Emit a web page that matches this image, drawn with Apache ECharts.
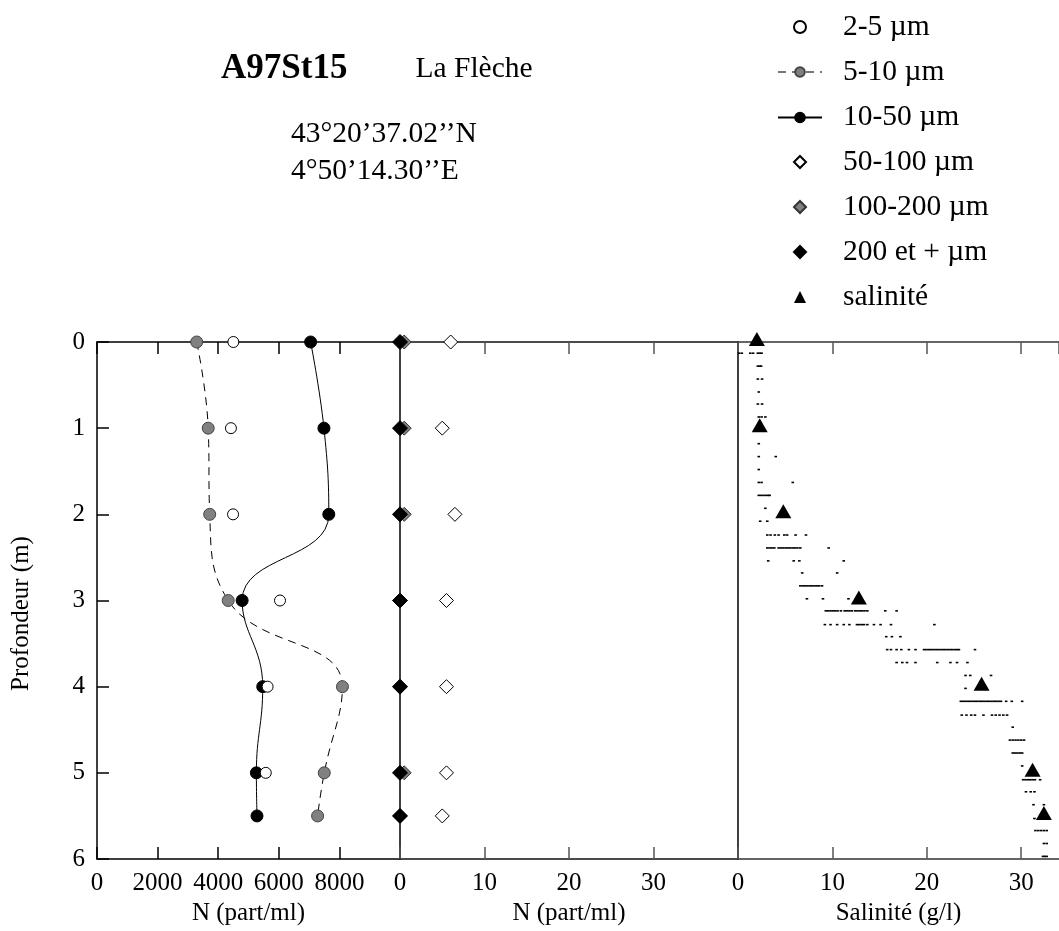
<!DOCTYPE html>
<html><head><meta charset="utf-8">
<script src="https://cdn.jsdelivr.net/npm/echarts@6/dist/echarts.min.js"></script>
<style>html,body{margin:0;padding:0;background:#fff}#c{width:1059px;height:931px}</style>
</head><body><div id="c"></div>
<script>
// ---- data ----
const depths = [0, 1, 2, 3, 4, 5, 5.5];
const n2to5 = [4500, 4420, 4490, 6040, 5630, 5570, null];
const n5to10 = [3290, 3670, 3720, 4330, 8100, 7500, 7280];
const n10to50 = [7050, 7490, 7650, 4790, 5470, 5260, 5280];
const n50to100 = [6.0, 5.0, 6.5, 5.5, 5.5, 5.5, 5.0];
const n100to200 = [0.5, 0.5, 0.5, 0, 0, 0.5, 0];
const n200plus = [0, 0, 0, 0, 0, 0, 0];
const salinity = [2.0, 2.3, 4.8, 12.8, 25.8, 31.2, 32.4];

const ctdRowDepth = [0.13, 0.28, 0.43, 0.58, 0.72, 0.87, 1.18, 1.33, 1.48, 1.63, 1.78, 1.93, 2.08, 2.24, 2.39, 2.54, 2.68, 2.83, 2.98, 3.12, 3.28, 3.42, 3.57, 3.72, 3.87, 4.02, 4.17, 4.33, 4.47, 4.62, 4.77, 4.92, 5.08, 5.22, 5.37, 5.53, 5.67, 5.82, 5.97];
const ctdRowSalinity = [
  [0.1, 0.4, 1.3, 1.6, 2.1, 2.3, 2.5],
  [2.1, 2.3, 2.45],
  [2.1, 2.55],
  [2.2],
  [2.1, 2.55],
  [2.2, 2.5, 2.9],
  [2.2],
  [2.2, 4.0],
  [2.2],
  [2.2, 2.5, 5.8],
  [2.2, 2.45, 2.7, 2.95, 3.2, 3.35],
  [2.9],
  [2.35, 3.1],
  [3.1, 3.45, 3.9, 4.3, 4.9, 5.2, 6.1, 7.2],
  [3.1, 3.35, 3.6, 3.85, 4.3, 4.55, 4.8, 5.05, 5.3, 5.55, 5.8, 6.05, 6.3, 6.6, 9.6],
  [3.2, 5.9, 6.5, 11.2],
  [6.8, 10.5],
  [6.6, 6.85, 7.1, 7.35, 7.6, 7.85, 8.1, 8.35, 8.6, 8.9],
  [7.3, 9.0, 11.7],
  [9.3, 9.55, 9.8, 10.05, 10.3, 10.55, 10.9, 11.3, 11.55, 11.8, 12.05, 12.4, 12.65, 12.9, 13.15, 13.4, 13.7, 15.6, 16.8],
  [9.2, 9.8, 10.5, 11.2, 11.8, 12.6, 12.85, 13.1, 13.35, 13.7, 14.4, 15.1, 16.2, 20.8],
  [15.7, 16.3, 17.2],
  [15.8, 16.2, 16.8, 17.3, 18.1, 18.8, 19.7, 19.95, 20.2, 20.45, 20.7, 20.95, 21.2, 21.45, 21.7, 21.95, 22.2, 22.45, 22.7, 22.95, 23.2, 23.4, 25.1],
  [16.8, 17.4, 17.9, 18.8, 21.1, 22.5, 23.2, 24.3],
  [24.1, 24.6, 26.8],
  [24.1],
  [23.6, 23.85, 24.1, 24.35, 24.6, 24.85, 25.1, 25.35, 25.6, 25.85, 26.1, 26.35, 26.6, 26.85, 27.1, 27.35, 27.6, 27.85, 28.4, 29.0, 30.1],
  [23.7, 24.2, 24.7, 25.1, 26.0, 26.9, 27.3, 27.7, 28.1, 28.5],
  [29.1],
  [28.8, 29.1, 29.4, 29.7, 30.0, 30.3],
  [29.1, 29.35, 29.6, 29.85, 30.1],
  [30.1],
  [30.2, 30.45, 30.7, 30.95, 31.2, 31.45, 32.0],
  [30.5, 31.0, 31.4],
  [31.3, 32.4],
  [31.4],
  [31.5, 31.8, 32.1, 32.4, 32.7],
  [32.4, 32.7],
  [32.3, 32.5, 32.7]
];

const panelRanges = [[0, 10000, 2000], [0, 40, 10], [0, 34, 10]];
const panelNames = ['N (part/ml)', 'N (part/ml)', 'Salinité (g/l)'];
const depthRange = [0, 6, 1];

// ---- build ----
const FONT = 'Liberation Serif';
function pts(arr) {
  const out = [];
  depths.forEach((d, i) => { if (arr[i] !== null) out.push([arr[i], d]); });
  return out;
}
const ctdPts = [];
ctdRowDepth.forEach((d, i) => ctdRowSalinity[i].forEach(s => ctdPts.push([s, d])));

const grids = [
  {left: 97, top: 342, width: 303, height: 517, outerBoundsMode: 'none'},
  {left: 400, top: 342, width: 338, height: 517, outerBoundsMode: 'none'},
  {left: 738, top: 342, width: 321, height: 517, outerBoundsMode: 'none'}
];
const labelStyle = {fontFamily: FONT, fontSize: 25, color: '#000', lineHeight: 25};
const plainNum = v => String(v);
const xAxes = [];
panelRanges.forEach((r, i) => {
  const lineCol = i === 0 ? '#000' : (i === 1 ? '#111' : '#333');
  const tickCol = i === 0 ? '#000' : '#555';
  xAxes.push({
    type: 'value', gridIndex: i, position: 'bottom', min: r[0], max: r[1], interval: r[2],
    axisLine: {show: true, onZero: false, lineStyle: {color: lineCol, width: 1.5}},
    axisTick: {show: true, inside: true, length: 12, lineStyle: {color: tickCol, width: 1.5}},
    axisLabel: Object.assign({show: true, showMaxLabel: false, showMinLabel: true, margin: 12, formatter: plainNum}, labelStyle),
    splitLine: {show: false},
    name: panelNames[i], nameLocation: 'middle', nameGap: 42, nameMoveOverlap: false,
    nameTextStyle: labelStyle
  });
  xAxes.push({
    type: 'value', gridIndex: i, position: 'top', min: r[0], max: r[1], interval: r[2],
    axisLine: {show: true, onZero: false, lineStyle: {color: lineCol, width: 1.5}},
    axisTick: {show: true, inside: true, length: 12, lineStyle: {color: tickCol, width: 1.5}},
    axisLabel: {show: false},
    splitLine: {show: false}
  });
});
const yAxes = [0, 1, 2].map(i => ({
  type: 'value', gridIndex: i, inverse: true, min: depthRange[0], max: depthRange[1], interval: depthRange[2],
  axisLine: {show: true, onZero: false, lineStyle: {color: '#000', width: 1.5}},
  axisTick: {show: i === 0, inside: true, length: 12, lineStyle: {color: '#000', width: 1.5}},
  axisLabel: Object.assign({show: i === 0, margin: 12, formatter: plainNum}, labelStyle),
  splitLine: {show: false},
  name: i === 0 ? 'Profondeur (m)' : '', nameLocation: 'middle', nameGap: 63, nameMoveOverlap: false,
  nameTextStyle: Object.assign({padding: [0, 26, 0, 0]}, labelStyle)
}));

const series = [
  {name: '2-5 µm', type: 'scatter', xAxisIndex: 0, yAxisIndex: 0, symbol: 'circle', symbolSize: 11,
   itemStyle: {color: '#fff', borderColor: '#000', borderWidth: 1, opacity: 1}, data: pts(n2to5), z: 3},
  {name: '5-10 µm', type: 'line', xAxisIndex: 0, yAxisIndex: 0, smooth: 0.45, symbol: 'circle', symbolSize: 12, showAllSymbol: true,
   lineStyle: {color: '#000', width: 1, type: [8, 6]}, itemStyle: {color: '#808080', borderColor: '#444', borderWidth: 1, opacity: 1},
   data: pts(n5to10), z: 2},
  {name: '10-50 µm', type: 'line', xAxisIndex: 0, yAxisIndex: 0, smooth: 0.45, symbol: 'circle', symbolSize: 12, showAllSymbol: true,
   lineStyle: {color: '#000', width: 1}, itemStyle: {color: '#000', borderColor: '#000', borderWidth: 1, opacity: 1},
   data: pts(n10to50), z: 2},
  {name: '50-100 µm', type: 'scatter', xAxisIndex: 2, yAxisIndex: 1, symbol: 'diamond', symbolSize: 14,
   itemStyle: {color: '#fff', borderColor: '#000', borderWidth: 1, opacity: 1}, data: pts(n50to100)},
  {name: '100-200 µm', type: 'scatter', xAxisIndex: 2, yAxisIndex: 1, symbol: 'diamond', symbolSize: 14,
   itemStyle: {color: '#808080', borderColor: '#333', borderWidth: 1, opacity: 1}, data: pts(n100to200)},
  {name: '200 et + µm', type: 'scatter', xAxisIndex: 2, yAxisIndex: 1, symbol: 'diamond', symbolSize: 15,
   itemStyle: {color: '#000', borderColor: '#000', borderWidth: 1, opacity: 1}, data: pts(n200plus)},
  {name: 'ctd', type: 'scatter', xAxisIndex: 4, yAxisIndex: 2, symbol: 'rect', symbolSize: [2.6, 1.6], silent: true,
   itemStyle: {color: '#000', opacity: 1}, data: ctdPts, z: 1},
  {name: 'salinité', type: 'scatter', xAxisIndex: 4, yAxisIndex: 2, symbol: 'triangle', symbolSize: [16, 14], symbolOffset: [0, -3],
   itemStyle: {color: '#000', opacity: 1}, data: pts(salinity), z: 3}
];

const legendText = {fontFamily: FONT, fontSize: 29.5, lineHeight: 29.5, color: '#000'};
function legendBlock(names, top, gap, wide) {
  const w = wide ? 44 : 12;
  return {
    orient: 'vertical', left: 799 - w / 2, top: top, padding: 0,
    itemWidth: w, itemHeight: 12, itemGap: gap, selectedMode: false,
    textStyle: Object.assign({padding: [0, 0, 0, 842 - (799 + w / 2 + 5)]}, legendText),
    data: names
  };
}

const chart = echarts.init(document.getElementById('c'), null, {renderer: 'canvas'});
chart.setOption({
  animation: false,
  backgroundColor: '#fff',
  grid: grids,
  xAxis: xAxes,
  yAxis: yAxes,
  series: series,
  tooltip: {show: false},
  legend: [
    legendBlock(['2-5 µm'], 12, 15.5, false),
    legendBlock([{name: '5-10 µm', lineStyle: {color: '#777'}}, {name: '10-50 µm'}], 57, 15.5, true),
    legendBlock(['50-100 µm', '100-200 µm', '200 et + µm', 'salinité'], 147, 15, false)
  ],
  graphic: [
    {type: 'text', x: 221, y: 69, style: {text: 'A97St15', font: 'bold 35px "Liberation Serif"', fill: '#000', verticalAlign: 'middle'}},
    {type: 'text', x: 415.5, y: 69, style: {text: 'La Flèche', font: '29.5px "Liberation Serif"', fill: '#000', verticalAlign: 'middle'}},
    {type: 'text', x: 291, y: 134.5, style: {text: '43°20’37.02’’N', font: '29.5px "Liberation Serif"', fill: '#000', verticalAlign: 'middle'}},
    {type: 'text', x: 291, y: 171, style: {text: '4°50’14.30’’E', font: '29.5px "Liberation Serif"', fill: '#000', verticalAlign: 'middle'}}
  ]
});
</script>
</body></html>
